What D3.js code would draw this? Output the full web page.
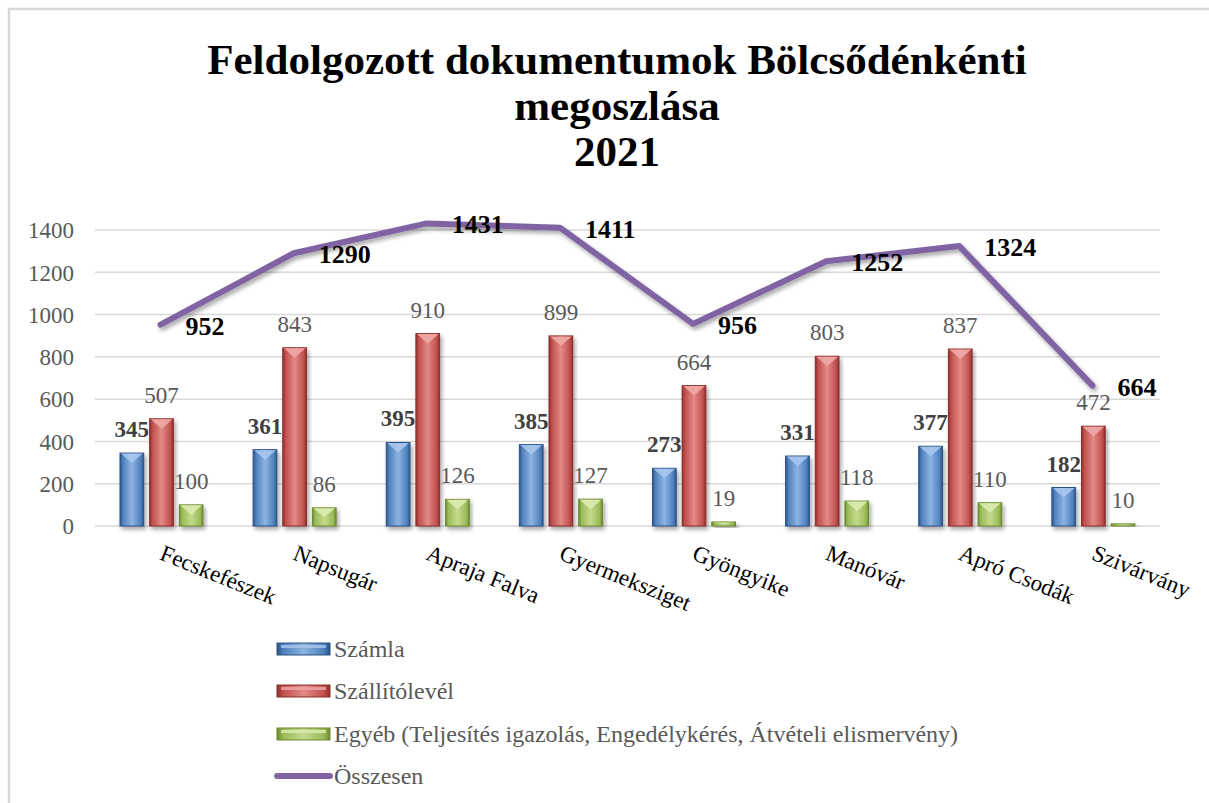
<!DOCTYPE html>
<html><head><meta charset="utf-8">
<script src="https://cdn.jsdelivr.net/npm/d3@7"></script>
<style>body{margin:0;background:#fff}svg{display:block}</style>
</head><body>
<script>
const categories = ["Fecskefészek","Napsugár","Apraja Falva","Gyermeksziget","Gyöngyike","Manóvár","Apró Csodák","Szivárvány"];
const szamla = [345,361,395,385,273,331,377,182];
const szallito = [507,843,910,899,664,803,837,472];
const egyeb = [100,86,126,127,19,118,110,10];
const osszesen = [952,1290,1431,1411,956,1252,1324,664];
const yTicks = [0,200,400,600,800,1000,1200,1400];
const seriesNames = ["Számla","Szállítólevél","Egyéb (Teljesítés igazolás, Engedélykérés, Átvételi elismervény)","Összesen"];
const titleLines = ["Feldolgozott dokumentumok Bölcsődénkénti","megoszlása","2021"];

const W=1209,H=803;
const FONT="'Liberation Serif','Times New Roman',serif";
const svg=d3.select("body").append("svg").attr("width",W).attr("height",H);
const defs=svg.append("defs");
const colors=[
 {base:"#4F81BD",light:"#8DB3E2",dark:"#2C5286",cap:"#A7C7EE"},
 {base:"#C0504D",light:"#E38A87",dark:"#8C2E2B",cap:"#F0A8A6"},
 {base:"#9BBB59",light:"#C3DA8C",dark:"#6B8A2E",cap:"#DCEBB0"}
];
colors.forEach((c,i)=>{
  const g=defs.append("linearGradient").attr("id","g"+i).attr("x1","0").attr("x2","1").attr("y1","0").attr("y2","0");
  g.append("stop").attr("offset","0").attr("stop-color",c.dark);
  g.append("stop").attr("offset","0.12").attr("stop-color",c.base);
  g.append("stop").attr("offset","0.5").attr("stop-color",c.light);
  g.append("stop").attr("offset","0.88").attr("stop-color",c.base);
  g.append("stop").attr("offset","1").attr("stop-color",c.dark);
});
const f=defs.append("filter").attr("id","sh").attr("x","-10%").attr("y","-20%").attr("width","130%").attr("height","160%");
f.append("feDropShadow").attr("dx",2).attr("dy",3).attr("stdDeviation",2).attr("flood-color","#000").attr("flood-opacity",0.35);

// frame
svg.append("rect").attr("x",9).attr("y",9).attr("width",W+20).attr("height",H+20)
  .attr("fill","none").attr("stroke","#d9d9d9").attr("stroke-width",2.5);

// title
const tt=svg.append("text").attr("text-anchor","middle").attr("font-family",FONT)
  .attr("font-weight","bold").attr("font-size",43).attr("fill","#000");
titleLines.forEach((t,i)=>tt.append("tspan").attr("x",617).attr("y",74+i*46).text(t));

const x0=d3.scaleBand().domain(categories).range([95,1160]).padding(0);
const x1=d3.scaleBand().domain([0,1,2]).range([25,108]).paddingInner(0.2);
const y=d3.scaleLinear().domain([0,1400]).range([526,230]);

// gridlines
svg.append("g").selectAll("line").data(yTicks).join("line")
  .attr("x1",95).attr("x2",1160).attr("y1",d=>y(d)).attr("y2",d=>y(d))
  .attr("stroke","#d9d9d9").attr("stroke-width",1.5);

// y axis labels
const ya=svg.append("g").attr("transform","translate(74,0)")
  .call(d3.axisLeft(y).tickValues(yTicks).tickFormat(d3.format("d")).tickSize(0).tickPadding(0));
ya.select(".domain").remove();
ya.selectAll("text").attr("font-family",FONT).attr("font-size",23).attr("fill","#595959").attr("dy","0.34em");

// x labels
const xa=svg.append("g").attr("transform","translate(0,526)");
categories.forEach(c=>{
  xa.append("text").attr("transform",`translate(${x0(c)+x0.bandwidth()/2+3},18) rotate(22)`)
    .attr("font-family",FONT).attr("font-size",23).attr("fill","#000")
    .attr("text-anchor","start").attr("dy","0.7em").text(c);
});

// bars
const series=[szamla,szallito,egyeb];
series.forEach((vals,si)=>{
  const g=svg.append("g");
  vals.forEach((v,ci)=>{
    const bx=x0(categories[ci])+x1(si), bw=x1.bandwidth(), by=y(v), bh=y(0)-y(v);
    g.append("rect").attr("x",bx).attr("y",by).attr("width",bw).attr("height",bh)
      .attr("fill",`url(#g${si})`).attr("stroke",colors[si].dark).attr("stroke-width",1)
      .attr("filter","url(#sh)");
    const capH=Math.min(10,bh/2);
    g.append("path").attr("d",`M${bx+1},${by+0.5} L${bx+bw-1},${by+0.5} L${bx+bw/2},${by+capH} Z`)
      .attr("fill",colors[si].cap).attr("opacity",0.9);
    g.append("text").attr("x",bx+bw/2).attr("y",by-16).attr("text-anchor","middle")
      .attr("font-family",FONT).attr("font-size",23)
      .attr("font-weight",si===0?"bold":"normal").attr("fill",si===0?"#404040":"#595959").text(v);
  });
});

// line
const line=d3.line().x((d,i)=>x0(categories[i])+x0.bandwidth()/2-1).y(d=>y(d));
svg.append("path").datum(osszesen).attr("d",line).attr("fill","none").attr("stroke","#8064A2")
  .attr("stroke-width",6).attr("stroke-linecap","round").attr("stroke-linejoin","round").attr("filter","url(#sh)");
svg.append("g").selectAll("text").data(osszesen).join("text")
  .attr("x",(d,i)=>x0(categories[i])+x0.bandwidth()/2+24).attr("y",d=>y(d)+10)
  .attr("font-family",FONT).attr("font-size",26).attr("font-weight","bold")
  .attr("fill","#000").text(d=>d);

// legend
const lg=svg.append("g");
const ly=[649,691,734,776];
seriesNames.forEach((n,i)=>{
  if(i<3){
    lg.append("rect").attr("x",277).attr("y",ly[i]-6).attr("width",53).attr("height",12)
      .attr("fill",`url(#g${i})`).attr("stroke",colors[i].dark).attr("stroke-width",1);
    lg.append("rect").attr("x",281).attr("y",ly[i]-4).attr("width",45).attr("height",3).attr("fill",colors[i].cap).attr("opacity",0.8);
  } else {
    lg.append("line").attr("x1",277).attr("x2",330).attr("y1",ly[i]).attr("y2",ly[i])
      .attr("stroke","#8064A2").attr("stroke-width",6).attr("stroke-linecap","round");
  }
  lg.append("text").attr("x",334).attr("y",ly[i]).attr("dy","0.35em")
    .attr("font-family",FONT).attr("font-size",24).attr("fill","#595959").text(n);
});
</script>
</body></html>
